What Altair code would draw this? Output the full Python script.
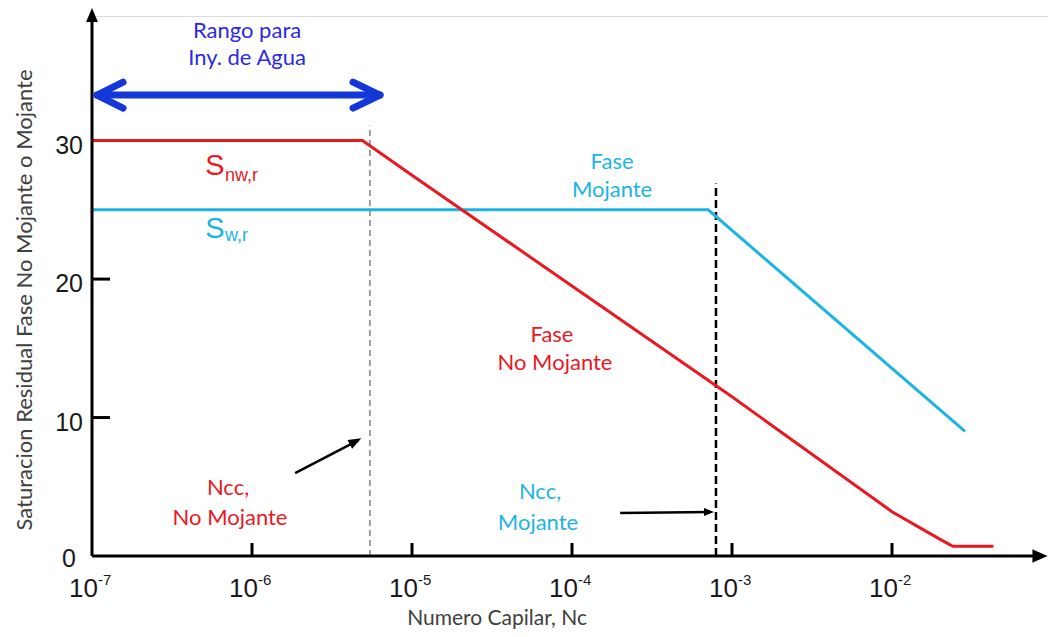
import altair as alt
import pandas as pd

# ---- data ----
nc_nw = [1e-7, 4.9e-6, 1e-5, 1e-4, 1e-3, 1e-2, 2.0e-2, 2.4e-2, 4.3e-2]
s_nw = [30, 30, 27.5, 19.5, 11.5, 3.2, 1.2, 0.7, 0.7]
nc_w = [1e-7, 7.1e-4, 2.86e-2]
s_w = [25, 25, 9.0]

ncc_nw = 5.46e-6
ncc_nw_top = 31.1
ncc_w = 7.94e-4
ncc_w_top = 26.9

x_tick_vals = [1e-7, 1e-6, 1e-5, 1e-4, 1e-3, 1e-2]
x_tick_exps = ["-7", "-6", "-5", "-4", "-3", "-2"]
y_tick_vals = [10, 20]
y_tick_labels = ["30", "20", "10"]
y_tick_label_vals = [30, 20, 10]

XMIN, XMAX = 1e-7, 10 ** (-1.025)
YMIN, YMAX = 0, 39

RED = "#e8191f"
CYAN = "#1cb4e6"
BLUE_TXT = "#2a2ae6"
BLUE_ARR = "#1438d8"
GREY = "#404040"
SANS = "Lato"
ARIAL = "Liberation Sans"

xs = alt.Scale(type="log", domain=[XMIN, XMAX], nice=False, zero=False)
ys = alt.Scale(domain=[YMIN, YMAX], nice=False, zero=False)


def X(f="x"):
    return alt.X(f"{f}:Q", scale=xs, axis=None)


def Y(f="y"):
    return alt.Y(f"{f}:Q", scale=ys, axis=None)


# curves
df_nw = pd.DataFrame({"x": nc_nw, "y": s_nw, "o": range(len(nc_nw))})
df_w = pd.DataFrame({"x": nc_w, "y": s_w, "o": range(len(nc_w))})
line_nw = alt.Chart(df_nw).mark_line(color=RED, strokeWidth=3).encode(x=X(), y=Y(), order="o:O")
line_w = alt.Chart(df_w).mark_line(color=CYAN, strokeWidth=3).encode(x=X(), y=Y(), order="o:O")

# critical capillary number lines
grey_dash = alt.Chart(pd.DataFrame({"x": [ncc_nw], "y": [0], "y2": [ncc_nw_top]})).mark_rule(
    color="#808080", strokeWidth=1.5, strokeDash=[6, 4]).encode(x=X(), y=Y(), y2="y2:Q")
black_dash = alt.Chart(pd.DataFrame({"x": [ncc_w], "y": [0], "y2": [ncc_w_top]})).mark_rule(
    color="black", strokeWidth=2.5, strokeDash=[8, 4]).encode(x=X(), y=Y(), y2="y2:Q")

# axes
x_axis = alt.Chart(pd.DataFrame({"x": [XMIN], "x2": [0.0794], "y": [0]})).mark_rule(
    color="black", strokeWidth=3).encode(x=X(), x2="x2:Q", y=Y())
y_axis = alt.Chart(pd.DataFrame({"x": [XMIN], "y": [0], "y2": [38.6]})).mark_rule(
    color="black", strokeWidth=3).encode(x=X(), y=Y(), y2="y2:Q")
x_head = alt.Chart(pd.DataFrame({"x": [0.0841], "y": [0]})).mark_point(
    shape="M-1,-0.9L1,0L-1,0.9Z", filled=True, color="black", size=225, opacity=1).encode(x=X(), y=Y())
y_head = alt.Chart(pd.DataFrame({"x": [XMIN], "y": [39.07]})).mark_point(
    shape="M-0.85,1L0,-1L0.85,1Z", filled=True, color="black", size=196, opacity=1).encode(x=X(), y=Y())

x_ticks = alt.Chart(pd.DataFrame({"x": x_tick_vals[1:], "y": [0] * 5, "y2": [0.94] * 5})).mark_rule(
    color="black", strokeWidth=3).encode(x=X(), y=Y(), y2="y2:Q")
y_ticks = alt.Chart(pd.DataFrame({"x": [XMIN] * 2, "x2": [1.296e-7] * 2, "y": y_tick_vals})).mark_rule(
    color="black", strokeWidth=3).encode(x=X(), x2="x2:Q", y=Y())

df_xl = pd.DataFrame({"x": x_tick_vals, "y": [0] * 6, "base": ["10"] * 6, "exp": x_tick_exps})
x_lab_base = alt.Chart(df_xl).mark_text(
    font=ARIAL, fontSize=26, color="#1a1a1a", align="right", baseline="alphabetic", dx=6, dy=41
).encode(x=X(), y=Y(), text="base:N")
x_lab_exp = alt.Chart(df_xl).mark_text(
    font=ARIAL, fontSize=15, color="#1a1a1a", align="left", baseline="alphabetic", dx=6, dy=29
).encode(x=X(), y=Y(), text="exp:N")

df_yl = pd.DataFrame({"x": [XMIN] * 3, "y": y_tick_label_vals, "t": y_tick_labels})
y_lab = alt.Chart(df_yl).mark_text(
    font=ARIAL, fontSize=25, color="#1a1a1a", align="right", baseline="middle", dx=-9, dy=5
).encode(x=X(), y=Y(), text="t:N")
y_lab0 = alt.Chart(pd.DataFrame({"x": [XMIN], "y": [0], "t": ["0"]})).mark_text(
    font=ARIAL, fontSize=25, color="#1a1a1a", align="right", baseline="middle", dx=-16, dy=3
).encode(x=X(), y=Y(), text="t:N")

# axis titles
x_title = alt.Chart(pd.DataFrame({"x": [3.4e-5], "y": [-4.55], "t": ["Numero Capilar, Nc"]})).mark_text(
    font=SANS, fontSize=21, color=GREY, align="center", baseline="middle").encode(x=X(), y=Y(), text="t:N")
y_title = alt.Chart(pd.DataFrame({"x": [3.8e-8], "y": [18.49],
                                  "t": ["Saturacion Residual Fase No Mojante o Mojante"]})).mark_text(
    font=SANS, fontSize=22, color=GREY, align="center", baseline="middle", angle=270).encode(
    x=X(), y=Y(), text="t:N")

# annotations
ann_x = [9.31e-7, 9.31e-7, 1.78e-4, 1.78e-4, 7.5e-5, 7.83e-5, 7.08e-7, 7.29e-7, 6.31e-5, 6.13e-5]
ann_y = [37.92, 35.97, 28.46, 26.43, 15.96, 13.94, 4.91, 2.74, 4.62, 2.38]
ann_t = ["Rango para", "Iny. de Agua", "Fase", "Mojante", "Fase", "No Mojante",
         "Ncc,", "No Mojante", "Ncc,", "Mojante"]
ann_c = ["b", "b", "c", "c", "r", "r", "r", "r", "c", "c"]
df_ann = pd.DataFrame({"x": ann_x, "y": ann_y, "t": ann_t, "c": ann_c})
ann = alt.Chart(df_ann).mark_text(font=SANS, fontSize=22, align="center", baseline="middle").encode(
    x=X(), y=Y(), text="t:N",
    color=alt.Color("c:N", scale=alt.Scale(domain=["b", "c", "r"], range=[BLUE_TXT, CYAN, RED]), legend=None))

# S labels
df_S = pd.DataFrame({"x": [5.1e-7, 5.1e-7], "y": [27.52, 22.97], "t": ["S", "S"], "c": ["r", "c"]})
df_sub = pd.DataFrame({"x": [6.78e-7, 6.78e-7], "y": [27.08, 22.75], "t": ["nw,r", "w,r"], "c": ["r", "c"]})
cscale = alt.Scale(domain=["c", "r"], range=[CYAN, RED])
s_big = alt.Chart(df_S).mark_text(font=ARIAL, fontSize=29, align="left", baseline="alphabetic").encode(
    x=X(), y=Y(), text="t:N", color=alt.Color("c:N", scale=cscale, legend=None))
s_sub = alt.Chart(df_sub).mark_text(font=ARIAL, fontSize=18, align="left", baseline="alphabetic").encode(
    x=X(), y=Y(), text="t:N", color=alt.Color("c:N", scale=cscale, legend=None))

# blue double arrow
arr_x = [1.074e-7, 6.31e-6, 1.563e-7, 1.074e-7, 1.563e-7, 4.28e-6, 6.31e-6, 4.28e-6]
arr_y = [33.29, 33.29, 34.22, 33.29, 32.35, 34.22, 33.29, 32.35]
arr_g = ["s", "s", "l", "l", "l", "r", "r", "r"]
df_arr = pd.DataFrame({"x": arr_x, "y": arr_y, "g": arr_g, "o": range(8)})
blue_arrow = alt.Chart(df_arr).mark_line(color=BLUE_ARR, strokeWidth=7, strokeCap="round",
                                         strokeJoin="round").encode(
    x=X(), y=Y(), detail="g:N", order="o:O")

# black pointer arrows
df_p = pd.DataFrame({"x": [1.86e-6, 4.6e-6, 2.0e-4, 7.3e-4], "y": [5.99, 8.35, 3.1, 3.18],
                     "g": ["a", "a", "b", "b"], "o": range(4)})
pointers = alt.Chart(df_p).mark_line(color="black", strokeWidth=2.5).encode(
    x=X(), y=Y(), detail="g:N", order="o:O")
head1 = alt.Chart(pd.DataFrame({"x": [4.44e-6], "y": [8.28]})).mark_point(
    shape="M-1,-0.75L1,0L-1,0.75Z", filled=True, color="black", size=170, angle=332, opacity=1).encode(x=X(), y=Y())
head2 = alt.Chart(pd.DataFrame({"x": [7.18e-4], "y": [3.18]})).mark_point(
    shape="M-1,-0.8L1,0L-1,0.8Z", filled=True, color="black", size=100, opacity=1).encode(x=X(), y=Y())

chart = alt.layer(
    grey_dash, black_dash, line_w, line_nw, x_axis, y_axis, x_head, y_head, x_ticks, y_ticks,
    x_lab_base, x_lab_exp, y_lab, y_lab0, x_title, y_title, ann, s_big, s_sub,
    blue_arrow, pointers, head1, head2
).properties(
    width=956, height=540,
    autosize=alt.AutoSizeParams(type="none"),
    padding={"left": 84, "top": 8, "right": 0, "bottom": 73},
).configure_view(stroke=None).configure(background="white")

chart.save("out.html", embed_options={"renderer": "svg", "actions": False})
